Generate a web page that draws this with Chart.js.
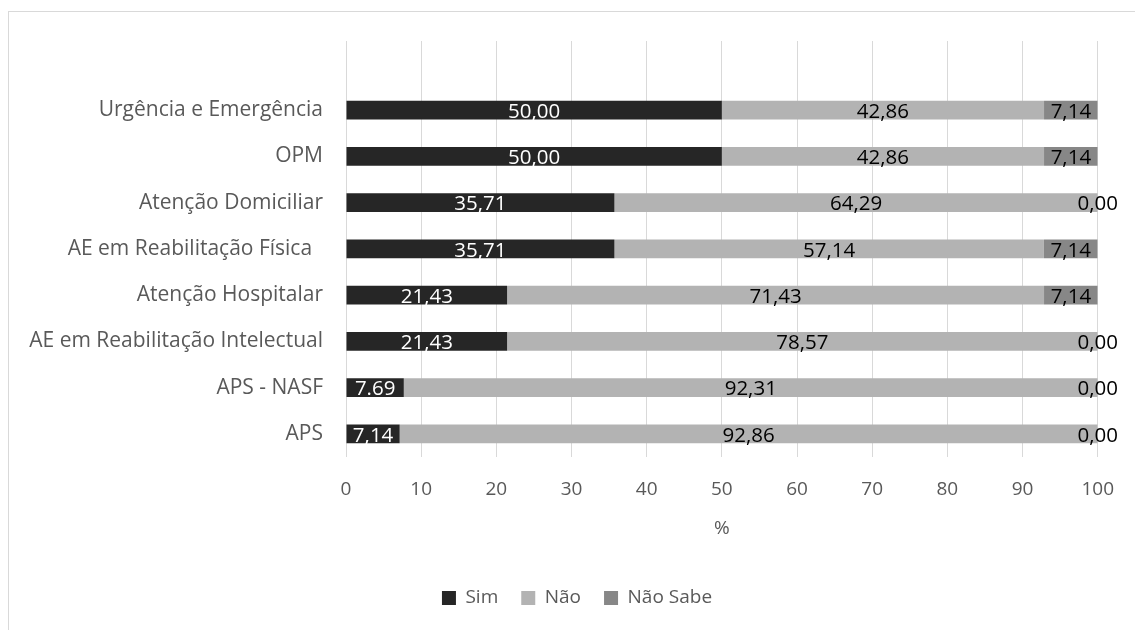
<!DOCTYPE html>
<html lang="pt-BR">
<head>
<meta charset="UTF-8">
<title>Serviços da rede</title>
<script src="https://cdn.jsdelivr.net/npm/chart.js@4.4.1/dist/chart.umd.min.js"></script>
<style>
    html, body { margin: 0; padding: 0; background: #fff; overflow: hidden; }
    #moldura { position: absolute; left: 8px; top: 11px; width: 1200px; height: 700px; border: 1px solid #d9d9d9; }
    #areaGrafico { position: absolute; left: 0; top: 0; width: 1135px; height: 630px; }
</style>
</head>
<body>
<div id="moldura"></div>
<div id="areaGrafico"><canvas id="graficoServicos"></canvas></div>
<script>
// Dados (percentuais)
const categorias = [
    'Urgência e Emergência',
    'OPM',
    'Atenção Domiciliar',
    'AE em Reabilitação Física  ',
    'Atenção Hospitalar',
    'AE em Reabilitação Intelectual',
    'APS - NASF',
    'APS'
];
const sim = [50.00, 50.00, 35.71, 35.71, 21.43, 21.43, 7.69, 7.14];
const nao = [42.86, 42.86, 64.29, 57.14, 71.43, 78.57, 92.31, 92.86];
const naoSabe = [7.14, 7.14, 0.00, 7.14, 7.14, 0.00, 0.00, 0.00];

// No original o rótulo de "Sim" do APS - NASF aparece com ponto
const rotuloComPonto = ['APS - NASF'];

function formatarValor(valor, indice, serie) {
    let texto = valor.toFixed(2);
    if (serie === 'Sim' && rotuloComPonto.includes(categorias[indice])) return texto;
    return texto.replace('.', ',');
}

Chart.defaults.font.family = '"Open Sans", sans-serif';
Chart.defaults.color = '#595959';

// Estende as linhas de grade acima da área das barras (como no Excel)
const gradeExtra = {
    id: 'gradeExtra',
    beforeDatasetsDraw(chart) {
        const ctx = chart.ctx;
        const eixoX = chart.scales.x;
        ctx.save();
        ctx.strokeStyle = '#d9d9d9';
        ctx.lineWidth = 1;
        eixoX.ticks.forEach(function(tick) {
            const px = Math.round(eixoX.getPixelForValue(tick.value) - 0.5) + 0.5;
            ctx.beginPath();
            ctx.moveTo(px, 41);
            ctx.lineTo(px, chart.chartArea.top);
            ctx.stroke();
        });
        ctx.restore();
    }
};

// A legenda do original fica um pouco à direita do centro
const deslocaLegenda = {
    id: 'deslocaLegenda',
    afterLayout(chart) {
        if (!chart.legend) return;
        chart.legend.left += 28;
        chart.legend.right += 28;
    }
};

// Rótulos de valor no centro de cada segmento
const rotulosValores = {
    id: 'rotulosValores',
    afterDatasetsDraw(chart) {
        const ctx = chart.ctx;
        ctx.save();
        ctx.font = '20.5px "Open Sans", sans-serif';
        ctx.textAlign = 'center';
        ctx.textBaseline = 'middle';
        chart.data.datasets.forEach(function(ds, i) {
            const meta = chart.getDatasetMeta(i);
            meta.data.forEach(function(barra, j) {
                const cx = (barra.x + barra.base) / 2;
                ctx.fillStyle = ds.corRotulo;
                ctx.fillText(formatarValor(ds.data[j], j, ds.label), cx, barra.y + 2);
            });
        });
        ctx.restore();
    }
};

const ctxServicos = document.getElementById('graficoServicos').getContext('2d');
window.graficoServicos = new Chart(ctxServicos, {
    type: 'bar',
    data: {
        labels: categorias,
        datasets: [
            { label: 'Sim', data: sim, backgroundColor: '#262626', corRotulo: '#ffffff' },
            { label: 'Não', data: nao, backgroundColor: '#b3b3b3', corRotulo: '#000000' },
            { label: 'Não Sabe', data: naoSabe, backgroundColor: '#878787', corRotulo: '#000000' }
        ]
    },
    options: {
        indexAxis: 'y',
        responsive: true,
        maintainAspectRatio: false,
        animation: false,
        categoryPercentage: 0.41,
        barPercentage: 1,
        layout: {
            padding: { top: 87, right: 37, bottom: 12.5, left: 0 }
        },
        scales: {
            x: {
                stacked: true,
                min: 0,
                max: 100,
                ticks: {
                    stepSize: 10,
                    padding: 21,
                    color: '#595959',
                    font: { size: 19 }
                },
                grid: { color: '#d9d9d9', drawTicks: false },
                border: { display: false },
                title: {
                    display: true,
                    text: '%',
                    color: '#595959',
                    font: { size: 19 },
                    padding: { top: 0, bottom: 26 }
                },
                afterFit: function(escala) { escala.height = 108.5; }
            },
            y: {
                stacked: true,
                ticks: {
                    padding: 23,
                    color: '#595959',
                    font: { size: 21 }
                },
                grid: { display: false, drawTicks: false },
                border: { display: false },
                afterFit: function(escala) { escala.width = 346; }
            }
        },
        plugins: {
            legend: {
                position: 'bottom',
                labels: {
                    boxWidth: 14,
                    boxHeight: 14,
                    padding: 23,
                    color: '#595959',
                    font: { size: 19 }
                }
            },
            tooltip: { enabled: false }
        }
    },
    plugins: [gradeExtra, deslocaLegenda, rotulosValores]
});
</script>
</body>
</html>
